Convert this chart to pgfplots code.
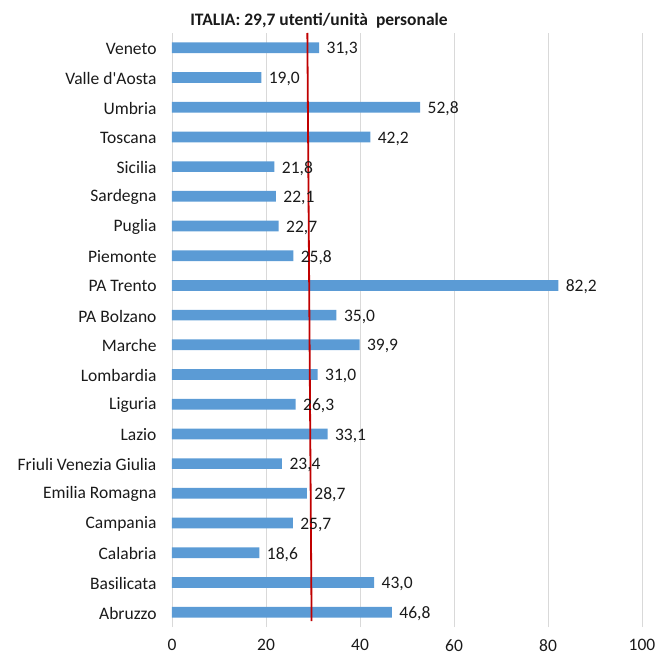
\documentclass[border=0pt]{standalone}
\usepackage{fontspec}
\setmainfont{Carlito}[Ligatures=TeXOff]
\usepackage{pgfplots}
\pgfplotsset{compat=1.18}
\definecolor{barblue}{HTML}{5B9BD5}
\definecolor{gridgray}{HTML}{D9D9D9}
\definecolor{avgred}{HTML}{C00000}
\definecolor{txt}{HTML}{1A1A1A}
\newcommand{\lblfont}{\fontsize{17.5}{20}\selectfont}
\begin{document}
\begin{tikzpicture}
\begin{axis}[
  name=ax,
  scale only axis,
  width=470pt, height=594pt,
  xmin=0, xmax=100, ymin=-0.5, ymax=19.5,
  xtick={0,20,...,100},
  ytick={0,...,19},
  yticklabels={Abruzzo,Basilicata,Calabria,Campania,Emilia Romagna,Friuli Venezia Giulia,Lazio,Liguria,Lombardia,Marche,PA Bolzano,PA Trento,Piemonte,Puglia,Sardegna,Sicilia,Toscana,Umbria,Valle d'Aosta,Veneto},
  xmajorgrids,
  major grid style={gridgray, line width=0.9pt},
  axis line style={draw=none},
  major tick length=0pt,
  tick label style={font=\lblfont, text=txt},
  yticklabel style={xshift=-12pt, yshift=-1pt},
  xticklabel style={yshift=-9pt},
  /pgf/number format/assume math mode=true,
]
\addplot[xbar, bar width=10.7pt, fill=barblue, draw=none,
  nodes near coords={\pgfmathprintnumber[fixed,fixed zerofill,precision=1,use comma,assume math mode=true]{\pgfplotspointmeta}},
  nodes near coords style={anchor=west, xshift=4pt, yshift=-1.5pt, font=\lblfont, text=txt}]
  coordinates {
    (46.8,0) (43.0,1) (18.6,2) (25.7,3) (28.7,4)
    (23.4,5) (33.1,6) (26.3,7) (31.0,8) (39.9,9)
    (35.0,10) (82.2,11) (25.8,12) (22.7,13) (22.1,14)
    (21.8,15) (42.2,16) (52.8,17) (19.0,18) (31.3,19)
  };
% national average marker
\addplot[avgred, line width=1.8pt] coordinates {(28.8,19.5) (29.7,-0.3)};
\end{axis}
\node[anchor=base, font=\fontsize{17.5}{20}\selectfont\bfseries, text=txt]
  at ([shift={(147pt,7.5pt)}]ax.north west) {ITALIA: 29,7 utenti/unità\ \ personale};
\pgfresetboundingbox
\path[use as bounding box] ([shift={(-172pt,-32pt)}]ax.south west) rectangle ([shift={(16pt,33pt)}]ax.north east);
\end{tikzpicture}
\end{document}
